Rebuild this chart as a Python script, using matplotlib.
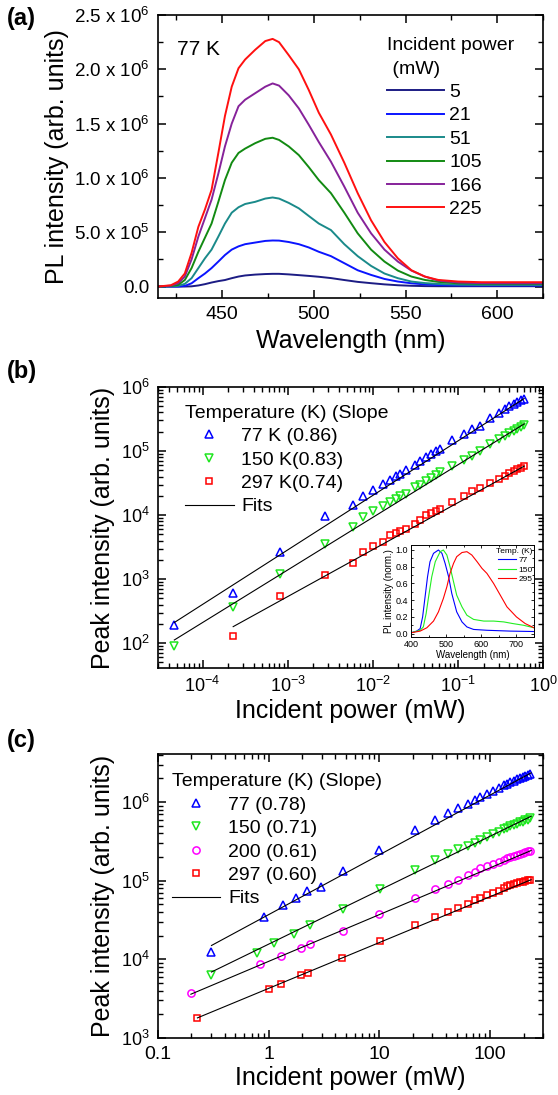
import matplotlib
matplotlib.use('Agg')
import numpy as np
import matplotlib.pyplot as plt
from matplotlib.ticker import MultipleLocator, FuncFormatter, LogLocator, NullFormatter
from matplotlib.lines import Line2D

plt.rcParams['font.family'] = ['Liberation Sans', 'DejaVu Sans']
plt.rcParams['mathtext.fontset'] = 'custom'
plt.rcParams['mathtext.rm'] = 'Liberation Sans'
plt.rcParams['mathtext.it'] = 'Liberation Sans:italic'
plt.rcParams['mathtext.bf'] = 'Liberation Sans:bold'
plt.rcParams['mathtext.sf'] = 'Liberation Sans'
plt.rcParams['axes.linewidth'] = 1.2

# ---------------- (a) PL spectra at 77 K ----------------
wl = [415, 422, 426, 429.6, 433.3, 437, 440.6, 444.2, 447.9, 451.5, 455.2, 458.9,
      462.5, 468, 473.5, 477.5, 481, 486.3, 491.8, 497.2, 502.7, 509.3, 516.6,
      523.9, 531.2, 538.5, 545.8, 553.2, 560.5, 567.8, 578.7, 591.5, 610, 625]
pl_5 = [0, 0, 0, 0, 2e3, 1e4, 2.2e4, 3.7e4, 5e4, 6e4, 7.7e4, 9.2e4,
        1.02e5, 1.1e5, 1.15e5, 1.17e5, 1.17e5, 1.12e5, 1.05e5, 9.8e4, 9e4, 7.8e4, 6.0e4,
        4.3e4, 3.1e4, 2.0e4, 1.2e4, 7e3, 4e3, 3e3, 3e3, 3e3, 3e3, 3e3]
pl_21 = [0, 0, 0, 6e3, 3e4, 7.7e4, 1.2e5, 1.7e5, 2.3e5, 2.9e5, 3.4e5, 3.7e5,
         3.9e5, 4.05e5, 4.2e5, 4.24e5, 4.23e5, 4.1e5, 3.9e5, 3.6e5, 3.2e5, 2.8e5, 2.15e5,
         1.5e5, 1.07e5, 7e4, 4.6e4, 3e4, 2e4, 1.4e4, 1.1e4, 1e4, 1e4, 1e4]
pl_51 = [0, 2e3, 6e3, 2.5e4, 7.7e4, 1.7e5, 2.6e5, 3.4e5, 4.6e5, 5.8e5, 6.8e5, 7.3e5,
         7.6e5, 7.8e5, 8.1e5, 8.2e5, 8.1e5, 7.7e5, 7.2e5, 6.5e5, 5.8e5, 5.2e5, 3.9e5,
         2.8e5, 1.9e5, 1.2e5, 7.7e4, 4.6e4, 3.2e4, 2.4e4, 1.8e4, 1.5e4, 1.5e4, 1.5e4]
pl_105 = [0, 5e3, 1.5e4, 6e4, 1.7e5, 3.2e5, 4.5e5, 5.8e5, 7.8e5, 9.8e5, 1.14e6, 1.23e6,
          1.27e6, 1.32e6, 1.36e6, 1.37e6, 1.35e6, 1.29e6, 1.21e6, 1.10e6, 9.8e5, 8.6e5, 6.8e5,
          4.9e5, 3.4e5, 2.3e5, 1.47e5, 9.2e4, 6.1e4, 4.3e4, 3.0e4, 2.6e4, 2.5e4, 2.5e4]
pl_166 = [0, 8e3, 3e4, 9.2e4, 2.5e5, 4.6e5, 6.3e5, 8.0e5, 1.04e6, 1.29e6, 1.50e6, 1.66e6,
          1.72e6, 1.78e6, 1.84e6, 1.87e6, 1.85e6, 1.76e6, 1.64e6, 1.49e6, 1.33e6, 1.15e6, 9.2e5,
          6.8e5, 4.9e5, 3.4e5, 2.3e5, 1.47e5, 9.2e4, 5.5e4, 3.7e4, 3.1e4, 3.0e4, 3.0e4]
pl_225 = [0, 1.2e4, 4.6e4, 1.2e5, 3.1e5, 5.5e5, 7.1e5, 8.9e5, 1.23e6, 1.57e6, 1.84e6, 2.01e6,
          2.09e6, 2.18e6, 2.26e6, 2.28e6, 2.25e6, 2.13e6, 2.0e6, 1.81e6, 1.60e6, 1.40e6, 1.14e6,
          8.6e5, 6.1e5, 4.1e5, 2.6e5, 1.5e5, 9.2e4, 6.1e4, 4.6e4, 4.0e4, 4.0e4, 4.0e4]
powers_a = ['5', '21', '51', '105', '166', '225']
colors_a = ['#1c1c84', '#0a14ff', '#1a8a8a', '#128a12', '#86229a', '#ff1010']

# ---------------- (b) peak intensity vs power (low power) ----------------
pb = [4.66e-5, 2.29e-4, 8.07e-4, 2.72e-3, 5.79e-3, 7.6e-3, 1.01e-2, 1.32e-2, 1.59e-2,
      1.87e-2, 2.08e-2, 2.44e-2, 3.12e-2, 3.63e-2, 4.27e-2, 4.88e-2, 5.6e-2, 6.23e-2,
      8.6e-2, 0.117, 0.148, 0.18, 0.24, 0.303, 0.354, 0.40, 0.45, 0.50, 0.55, 0.59]
ib_77 = [193, 597, 2650, 9500, 1.46e4, 1.95e4, 2.46e4, 3.05e4, 3.52e4, 4.02e4, 4.36e4,
         5.1e4, 6.1e4, 7.05e4, 8.1e4, 9.1e4, 1.0e5, 1.09e5, 1.47e5, 1.87e5, 2.18e5,
         2.46e5, 3.23e5, 3.96e5, 4.46e5, 5.0e5, 5.4e5, 5.8e5, 6.2e5, 6.5e5]
ib_150 = [91, 362, 1200, 3570, 6480, 9270, 1.15e4, 1.41e4, 1.59e4, 1.79e4, 1.96e4,
          2.13e4, 2.71e4, 2.99e4, 3.36e4, 3.78e4, 4.27e4, 4.63e4, 5.74e4, 7.2e4, 8.4e4,
          1.0e5, 1.28e5, 1.52e5, 1.72e5, 1.94e5, 2.08e5, 2.22e5, 2.38e5, 2.55e5]
pb_297 = pb[1:]
ib_297 = [130, 550, 1150, 1810, 2630, 3290, 3840, 4820, 5230, 5700, 6110, 7300, 8410,
          9860, 1.07e4, 1.15e4, 1.25e4, 1.59e4, 2.01e4, 2.35e4, 2.6e4, 3.16e4, 3.65e4,
          4.12e4, 4.5e4, 4.81e4, 5.2e4, 5.5e4, 5.74e4]
fitb_77 = ([4.66e-5, 0.6], [210, 6.6e5])
fitb_150 = ([4.66e-5, 0.6], [112, 2.65e5])
fitb_297 = ([2.29e-4, 0.6], [181, 5.8e4])
labels_b = ['77 K (0.86)', '150 K(0.83)', '297 K(0.74)']

# inset: normalised spectra
in_wl_77 = [400, 416, 426, 433, 440, 447, 454, 464, 478, 488, 497, 507, 516, 530, 545,
            559, 578, 616, 683, 750]
in_77 = [0.01, 0.03, 0.06, 0.2, 0.44, 0.68, 0.86, 0.96, 1.0, 0.96, 0.84, 0.68, 0.48,
         0.26, 0.14, 0.08, 0.05, 0.04, 0.03, 0.025]
in_wl_150 = [400, 426, 435, 443, 450, 459, 469, 483, 492, 502, 511, 521, 530, 545, 559,
             578, 607, 635, 664, 690, 720, 750]
in_150 = [0.01, 0.04, 0.08, 0.24, 0.44, 0.68, 0.86, 0.98, 1.0, 0.94, 0.8, 0.62, 0.46,
          0.32, 0.22, 0.17, 0.15, 0.15, 0.14, 0.12, 0.1, 0.07]
in_wl_295 = [400, 426, 445, 464, 478, 492, 502, 511, 521, 530, 545, 559, 573, 588, 602,
             616, 635, 654, 673, 700, 725, 750]
in_295 = [0.01, 0.03, 0.07, 0.15, 0.26, 0.42, 0.56, 0.72, 0.84, 0.92, 0.97, 0.98, 0.94,
          0.86, 0.78, 0.72, 0.6, 0.46, 0.32, 0.2, 0.12, 0.07]

# ---------------- (c) peak intensity vs power (high power) ----------------
pc_77 = [0.304, 0.912, 1.34, 1.77, 2.22, 2.98, 4.69, 9.93, 20.9, 31.7, 42, 51.7, 63.6,
         73.1, 81, 93.3, 107, 119, 132, 142, 152, 163, 174, 185, 196, 207, 218, 229]
ic_77 = [1.24e4, 3.46e4, 4.86e4, 6.03e4, 7.4e4, 8.3e4, 1.33e5, 2.43e5, 4.45e5, 5.96e5,
         7.24e5, 8.4e5, 9.5e5, 1.05e6, 1.16e6, 1.27e6, 1.40e6, 1.52e6, 1.63e6, 1.71e6,
         1.78e6, 1.86e6, 1.94e6, 2.0e6, 2.07e6, 2.13e6, 2.2e6, 2.29e6]
pc_150 = [0.304, 0.784, 1.12, 1.68, 2.38, 4.69, 10.1, 20.9, 31.7, 42, 51.7, 63.6, 73.1,
          81, 93.3, 107, 119, 132, 142, 152, 163, 174, 185, 196, 207, 218, 229]
ic_150 = [6.26e3, 1.2e4, 1.62e4, 2.12e4, 2.71e4, 4.4e4, 7.9e4, 1.35e5, 1.81e5, 2.2e5,
          2.53e5, 2.8e5, 3.05e5, 3.25e5, 3.55e5, 3.9e5, 4.2e5, 4.5e5, 4.7e5, 4.9e5, 5.1e5,
          5.3e5, 5.5e5, 5.65e5, 5.85e5, 6.0e5, 6.2e5]
pc_200 = [0.198, 0.84, 1.29, 1.94, 2.38, 4.69, 9.93, 20.9, 31.7, 42, 51.7, 63.6, 73.1,
          81, 93.3, 107, 119, 132, 142, 152, 163, 174, 185, 196, 207, 218, 229]
ic_200 = [3.74e3, 8.65e3, 1.09e4, 1.4e4, 1.55e4, 2.3e4, 3.78e4, 6.08e4, 7.76e4, 9.17e4,
          1.03e5, 1.17e5, 1.29e5, 1.46e5, 1.52e5, 1.61e5, 1.73e5, 1.85e5, 1.96e5, 2.02e5,
          2.08e5, 2.14e5, 2.2e5, 2.25e5, 2.3e5, 2.36e5, 2.41e5]
pc_297 = [0.227, 1.01, 1.29, 1.94, 2.28, 4.63, 10.1, 20.9, 31.7, 42, 51.7, 63.6, 73.1,
          81, 93.3, 107, 119, 132, 142, 152, 163, 174, 185, 196, 207, 218, 229]
ic_297 = [1.82e3, 4.16e3, 4.91e3, 6.26e3, 6.78e3, 1.04e4, 1.71e4, 2.71e4, 3.46e4, 4.0e4,
          4.54e4, 5.0e4, 5.62e4, 6.08e4, 6.5e4, 6.98e4, 7.5e4, 8.1e4, 8.5e4, 8.8e4, 9.1e4,
          9.3e4, 9.5e4, 9.7e4, 9.9e4, 1.01e5, 1.02e5]
fitc_77 = ([0.304, 234], [1.5e4, 2.35e6])
fitc_150 = ([0.304, 234], [6.9e3, 6.6e5])
fitc_200 = ([0.198, 234], [3.6e3, 2.42e5])
fitc_297 = ([0.227, 234], [1.8e3, 1.03e5])
labels_c = ['77 (0.78)', '150 (0.71)', '200 (0.61)', '297 (0.60)']

BLUE, GREEN, RED, MAG = '#0000ff', '#1ee61e', '#ff0000', '#ff00ff'


def style_ticks(ax, size=14):
    ax.tick_params(which='both', direction='in', top=True, right=True, labelsize=size)
    ax.tick_params(which='major', length=6, width=1.1, pad=6)
    ax.tick_params(which='minor', length=3.5, width=1.0)


def sci_fmt(v, pos):
    if abs(v) < 1:
        return '0.0'
    e = int(np.floor(np.log10(abs(v)) + 1e-9))
    return '%.1f x 10$^{%d}$' % (v / 10 ** e, e)


fig = plt.figure(figsize=(5.58, 10.95), dpi=100)

# ---- panel a
ax = fig.add_axes([0.2832, 0.7279, 0.690, 0.2584])
for y, lab, c in zip([pl_5, pl_21, pl_51, pl_105, pl_166, pl_225], powers_a, colors_a):
    ax.plot(wl, y, color=c, lw=1.4, label=lab)
ax.set_xlim(415, 625)
ax.set_ylim(-1.05e5, 2.5e6)
ax.xaxis.set_major_locator(MultipleLocator(50))
ax.xaxis.set_minor_locator(MultipleLocator(25))
ax.yaxis.set_major_locator(MultipleLocator(5e5))
ax.yaxis.set_minor_locator(MultipleLocator(2.5e5))
ax.yaxis.set_major_formatter(FuncFormatter(sci_fmt))
style_ticks(ax)
ax.tick_params(axis='y', labelsize=13.5)
ax.set_xlabel('Wavelength (nm)', fontsize=18, labelpad=4)
ax.set_ylabel('PL intensity (arb. units)', fontsize=18, labelpad=4)
ax.text(0.05, 0.86, '77 K', transform=ax.transAxes, fontsize=15)
leg = ax.legend(title='Incident power\n (mW)', loc='upper left', bbox_to_anchor=(0.595, 0.922),
                frameon=False, fontsize=14, title_fontsize=14, handlelength=2.9,
                handletextpad=0.3, labelspacing=0.3, borderpad=0, borderaxespad=0,
                alignment='left')
leg.get_title().set_linespacing(1.5)

# ---- panel b
ax = fig.add_axes([0.2832, 0.3900, 0.690, 0.2566])
mk = dict(ls='none', mfc='none', mew=1.1)
ax.plot(pb, ib_77, marker='^', ms=5.6, mec=BLUE, label=labels_b[0], **mk)
ax.plot(pb, ib_150, marker='v', ms=5.6, mec=GREEN, label=labels_b[1], **mk)
ax.plot(pb_297, ib_297, marker='s', ms=4.8, mec=RED, label=labels_b[2], **mk)
for f in (fitb_77, fitb_150, fitb_297):
    ax.plot(f[0], f[1], color='k', lw=0.8)
ax.set_xscale('log')
ax.set_yscale('log')
ax.set_xlim(3e-5, 1)
ax.set_ylim(41, 1e6)
ax.xaxis.set_major_locator(LogLocator(base=10, numticks=20))
ax.xaxis.set_minor_locator(LogLocator(base=10, subs=range(2, 10), numticks=20))
ax.yaxis.set_major_locator(LogLocator(base=10, numticks=20))
ax.yaxis.set_minor_locator(LogLocator(base=10, subs=range(2, 10), numticks=20))
ax.xaxis.set_minor_formatter(NullFormatter())
ax.yaxis.set_minor_formatter(NullFormatter())
style_ticks(ax, 13)
ax.set_xlabel('Incident power (mW)', fontsize=18, labelpad=2)
ax.set_ylabel('Peak intensity (arb. units)', fontsize=18, labelpad=4)
handles, labels = ax.get_legend_handles_labels()
handles.append(Line2D([], [], color='k', lw=0.8))
labels.append('Fits')
ax.legend(handles, labels, title='Temperature (K) (Slope', loc='upper left',
          bbox_to_anchor=(0.07, 0.937), frameon=False, fontsize=14, title_fontsize=14,
          handlelength=2.5, handletextpad=0.4, labelspacing=0.3, borderpad=0,
          borderaxespad=0, alignment='left')

# inset
axi = fig.add_axes([0.7366, 0.4183, 0.2204, 0.0840])
axi.plot(in_wl_77, in_77, color=BLUE, lw=0.8, label='77')
axi.plot(in_wl_150, in_150, color='#22ee22', lw=0.8, label='150')
axi.plot(in_wl_295, in_295, color=RED, lw=0.8, label='295')
axi.set_xlim(400, 750)
axi.set_ylim(-0.04, 1.06)
axi.xaxis.set_major_locator(MultipleLocator(100))
axi.xaxis.set_minor_locator(MultipleLocator(50))
axi.yaxis.set_major_locator(MultipleLocator(0.2))
axi.yaxis.set_minor_locator(MultipleLocator(0.1))
axi.yaxis.set_major_formatter(FuncFormatter(lambda v, p: '%.1f' % v))
for s in axi.spines.values():
    s.set_linewidth(0.7)
axi.tick_params(which='both', direction='in', top=True, right=True, labelsize=6.5, width=0.6)
axi.tick_params(which='major', length=2.5, pad=2)
axi.tick_params(which='minor', length=1.5)
axi.set_xlabel('Wavelength (nm)', fontsize=7, labelpad=1)
axi.set_ylabel('PL intensity (norm.)', fontsize=7, labelpad=1)
axi.legend(title='Temp. (K)', loc='upper right', bbox_to_anchor=(0.99, 0.97), frameon=False,
           fontsize=6, title_fontsize=6, handlelength=2.2, handletextpad=0.3,
           labelspacing=0.2, borderpad=0, borderaxespad=0, alignment='right')

# ---- panel c
ax = fig.add_axes([0.2832, 0.0521, 0.690, 0.2594])
ax.plot(pc_77, ic_77, marker='^', ms=5.6, mec=BLUE, label=labels_c[0], **mk)
ax.plot(pc_150, ic_150, marker='v', ms=5.6, mec=GREEN, label=labels_c[1], **mk)
ax.plot(pc_200, ic_200, marker='o', ms=5.2, mec=MAG, label=labels_c[2], **mk)
ax.plot(pc_297, ic_297, marker='s', ms=4.8, mec=RED, label=labels_c[3], **mk)
for f in (fitc_77, fitc_150, fitc_200, fitc_297):
    ax.plot(f[0], f[1], color='k', lw=0.8)
ax.set_xscale('log')
ax.set_yscale('log')
ax.set_xlim(0.1, 300)
ax.set_ylim(1e3, 4.1e6)
ax.yaxis.set_major_locator(LogLocator(base=10, numticks=20))
ax.yaxis.set_minor_locator(LogLocator(base=10, subs=range(2, 10), numticks=20))
ax.xaxis.set_minor_formatter(NullFormatter())
ax.yaxis.set_minor_formatter(NullFormatter())
ax.xaxis.set_major_formatter(FuncFormatter(lambda v, p: '%g' % v))
style_ticks(ax, 14)
ax.tick_params(axis='y', labelsize=13)
ax.set_xlabel('Incident power (mW)', fontsize=18, labelpad=2)
ax.set_ylabel('Peak intensity (arb. units)', fontsize=18, labelpad=4)
handles, labels = ax.get_legend_handles_labels()
handles.append(Line2D([], [], color='k', lw=0.8))
labels.append('Fits')
ax.legend(handles, labels, title='Temperature (K) (Slope)', loc='upper left',
          bbox_to_anchor=(0.035, 0.932), frameon=False, fontsize=14, title_fontsize=14,
          handlelength=2.5, handletextpad=0.4, labelspacing=0.3, borderpad=0,
          borderaxespad=0, alignment='left')

# panel letters
for lab, y in (('(a)', 0.983), ('(b)', 0.661), ('(c)', 0.324)):
    fig.text(0.012, y, lab, fontsize=17, fontweight='bold', va='center')

fig.savefig('out.png', dpi=100)
